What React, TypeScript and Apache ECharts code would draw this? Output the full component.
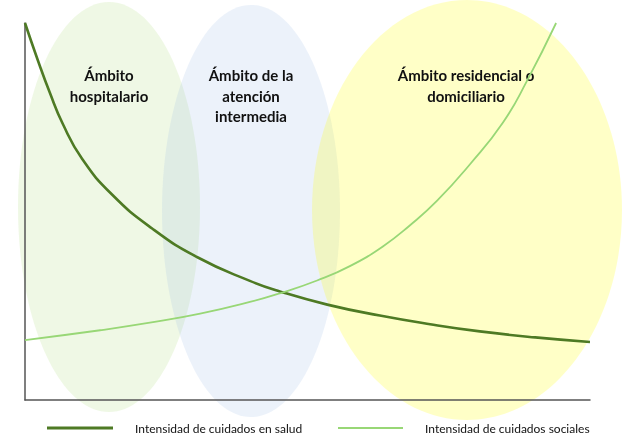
import React, { useEffect, useRef } from "react";
import * as echarts from "echarts";

// Data (x: 0-100 position along axis, y: 0-100 intensity)
const saludX = [0, 2.3, 4.4, 6.7, 10.1, 15.4, 22.5, 30.6, 39.8, 45.1, 53.5, 62.8, 71.7, 80.5, 90.3, 100];
const saludY = [100, 90, 81.5, 73.2, 64, 54.5, 45.5, 37.8, 31.6, 28.8, 25.3, 22.4, 20.1, 18.2, 16.6, 15.4];
const socialX = [0, 13.3, 22.1, 31.0, 39.8, 45.1, 51.7, 57.5, 63.4, 68.1, 72.9, 78.8, 84.6, 88.8, 94.0];
const socialY = [15.9, 18.5, 20.5, 22.9, 26.0, 28.3, 31.7, 35.5, 40.8, 46.3, 52.8, 62.6, 73.6, 84.5, 100];
const seriesNames = ["Intensidad de cuidados en salud", "Intensidad de cuidados sociales"];
const zoneLabels = ["Ámbito\nhospitalario", "Ámbito de la\natención\nintermedia", "Ámbito residencial o\ndomiciliario"];

const DARK = "#4E7A24";
const LIGHT = "#98D776";

export default function App() {
  const ref = useRef<HTMLDivElement>(null);
  useEffect(() => {
    if (!ref.current) return;
    const chart = echarts.init(ref.current, null, { renderer: "svg" });
    const labelFont = {
      fontFamily: "Lato",
      fontWeight: "bold" as const,
      fontSize: 15,
      lineHeight: 20.5,
      fill: "#111",
      align: "center" as const,
      verticalAlign: "top" as const,
    };
    chart.setOption({
      animation: false,
      grid: { left: 25, right: 48, top: 23, bottom: 45 },
      xAxis: {
        type: "value",
        min: 0,
        max: 100,
        axisLine: { show: true, lineStyle: { color: "#555", width: 1.5 } },
        axisTick: { show: false },
        axisLabel: { show: false },
        splitLine: { show: false },
      },
      yAxis: {
        type: "value",
        min: 0,
        max: 100,
        axisLine: { show: true, lineStyle: { color: "#555", width: 1.5 } },
        axisTick: { show: false },
        axisLabel: { show: false },
        splitLine: { show: false },
      },
      graphic: [
        { type: "ellipse", z: -10, shape: { cx: 109, cy: 207, rx: 91, ry: 205 }, style: { fill: "rgba(146,208,80,0.15)" } },
        { type: "ellipse", z: -10, shape: { cx: 251, cy: 211, rx: 89, ry: 206 }, style: { fill: "rgba(141,180,226,0.17)" } },
        { type: "ellipse", z: -10, shape: { cx: 467, cy: 210, rx: 155, ry: 210 }, style: { fill: "rgba(255,255,0,0.22)" } },
        { type: "text", x: 109, y: 65, style: { text: zoneLabels[0], ...labelFont } },
        { type: "text", x: 251, y: 65, style: { text: zoneLabels[1], ...labelFont } },
        { type: "text", x: 466, y: 65, style: { text: zoneLabels[2], ...labelFont } },
        { type: "line", shape: { x1: 47, y1: 428, x2: 113, y2: 428 }, style: { stroke: DARK, lineWidth: 3 } },
        { type: "text", x: 135, y: 428, style: { text: seriesNames[0], fontFamily: "Lato", fontSize: 12, fill: "#111", verticalAlign: "middle" } },
        { type: "line", shape: { x1: 338, y1: 428, x2: 403, y2: 428 }, style: { stroke: LIGHT, lineWidth: 2 } },
        { type: "text", x: 425, y: 428, style: { text: seriesNames[1], fontFamily: "Lato", fontSize: 12, fill: "#111", verticalAlign: "middle" } },
      ],
      series: [
        {
          name: seriesNames[0],
          type: "line",
          smooth: 0.5,
          showSymbol: false,
          lineStyle: { color: DARK, width: 2.6 },
          data: saludX.map((x, i) => [x, saludY[i]]),
        },
        {
          name: seriesNames[1],
          type: "line",
          smooth: 0.5,
          showSymbol: false,
          lineStyle: { color: LIGHT, width: 1.8 },
          data: socialX.map((x, i) => [x, socialY[i]]),
        },
      ],
    });
    return () => chart.dispose();
  }, []);
  return <div ref={ref} style={{ position: "fixed", left: 0, top: 0, width: 638, height: 445 }} />;
}
